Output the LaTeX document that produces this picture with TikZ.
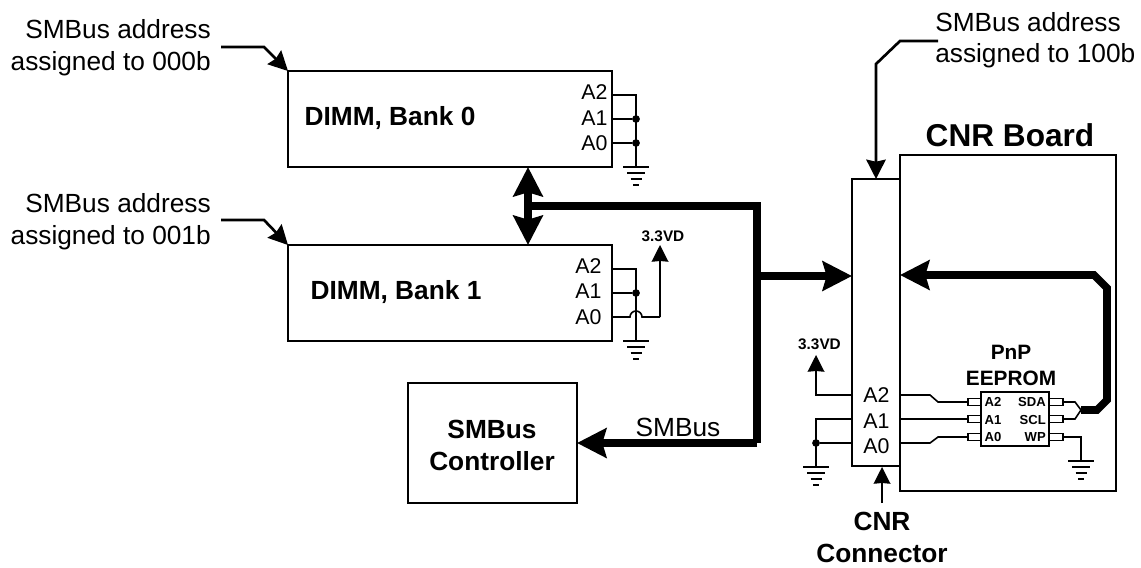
\documentclass[tikz,border=0pt]{standalone}
\usepackage{fontspec}
\setmainfont{Liberation Sans}
\usetikzlibrary{arrows.meta}
\tikzset{
  wire/.style={draw=black,line width=1.2pt},
  box/.style={draw=black,line width=1.3pt,fill=white,inner sep=0pt,outer sep=0pt},
  lblr/.style={inner sep=0pt,font=\fontsize{19.7}{23.8}\selectfont,align=right,text=black},
  lbll/.style={inner sep=0pt,font=\fontsize{19.7}{23.2}\selectfont,align=left,text=black},
  pinlabel/.style={inner sep=0pt,font=\fontsize{16}{18}\selectfont,text=black},
  boldlabel/.style={inner sep=0pt,font=\bfseries\fontsize{19.7}{24}\selectfont,align=center,text=black},
  chiplabel/.style={inner sep=0pt,font=\bfseries\fontsize{9.8}{11}\selectfont,text=black},
  railtext/.style={inner sep=0pt,font=\bfseries\fontsize{11.5}{14}\selectfont,text=black},
  eetext/.style={inner sep=0pt,font=\bfseries\fontsize{15.6}{19.5}\selectfont,align=center,text=black},
  bus/.style={draw=black,line width=5.8pt,line join=miter},
  bushead/.style={-{Triangle[length=22pt,width=22pt,inset=3pt]}},
  callout/.style={draw=black,line width=2pt,-{Triangle[length=14.5pt,width=14.5pt,inset=1.5pt]}},
  sig/.style={draw=black,line width=1.2pt,-{Triangle[length=12.5pt,width=12.5pt,inset=0.5pt]}},
  dotn/.style={circle,fill=black,inner sep=0pt,minimum size=5.8pt},
  pinbox/.style={draw=black,line width=1pt,fill=white,inner sep=0pt,outer sep=0pt,minimum height=5pt}
}
\newcommand{\gndsym}[2]{%
 \draw[wire] (#1-13,#2) -- (#1+13,#2);
 \draw[wire] (#1-9,#2+6) -- (#1+9,#2+6);
 \draw[wire] (#1-5.5,#2+12) -- (#1+5.5,#2+12);
 \draw[wire] (#1-3,#2+18) -- (#1+3,#2+18);}
\begin{document}
\begin{tikzpicture}[x=0.75pt,y=-0.75pt]
\useasboundingbox (0,0) rectangle (1141,567);
% boxes
\node[box,minimum width=216*0.75pt,minimum height=336*0.75pt] (board) at (1008,323) {};
\node[box,minimum width=48*0.75pt,minimum height=287*0.75pt] (conn) at (876,322.5) {};
\node[box,minimum width=324*0.75pt,minimum height=96*0.75pt] (dimm0) at (450,119) {};
\node[box,minimum width=324*0.75pt,minimum height=96*0.75pt] (dimm1) at (450,293) {};
\node[box,minimum width=169*0.75pt,minimum height=120*0.75pt] (ctrl) at (492.5,443) {};
\node[boldlabel] (d0t) at (390,118.5) {DIMM, Bank 0};
\node[boldlabel] (d1t) at (396,292.5) {DIMM, Bank 1};
\node[boldlabel] (ctrlt) at (492,445.5) {SMBus\\Controller};
\node[boldlabel,font=\bfseries\fontsize{23.7}{28}\selectfont] (cnrb) at (1010,135) {CNR Board};
\node[boldlabel,font=\bfseries\fontsize{19.7}{23.4}\selectfont] (cnrc) at (882,537.5) {CNR\\Connector};
% DIMM0 pins
\node[pinlabel,anchor=west] (a20) at (581,92.5) {A2};
\node[pinlabel,anchor=west] (a10) at (581,118.5) {A1};
\node[pinlabel,anchor=west] (a00) at (581,143.5) {A0};
\coordinate (d0a2) at (612,95); \coordinate (d0a1) at (612,119); \coordinate (d0a0) at (612,143);
\coordinate (d0top) at (636,95); \coordinate (d0g) at (636,167);
\node[dotn] (d0j1) at (636,119) {}; \node[dotn] (d0j0) at (636,143) {};
\draw[wire] (d0a2) -- (d0top) -- (d0g);
\draw[wire] (d0a1) -- (d0j1);
\draw[wire] (d0a0) -- (d0j0);
\gndsym{636}{167}
% DIMM1 pins
\node[pinlabel,anchor=west] (a21) at (575,266.5) {A2};
\node[pinlabel,anchor=west] (a11) at (575,291.5) {A1};
\node[pinlabel,anchor=west] (a01) at (575,317.5) {A0};
\coordinate (d1a2) at (612,269); \coordinate (d1a1) at (612,293); \coordinate (d1a0) at (612,317);
\coordinate (d1top) at (636,269); \coordinate (d1g) at (636,341);
\coordinate (d1hop) at (630,317); \coordinate (d1corner) at (660,317); \coordinate (d1v) at (660,245);
\node[dotn] (d1j1) at (636,293) {};
\draw[wire] (d1a2) -- (d1top) -- (d1g);
\draw[wire] (d1a1) -- (d1j1);
\draw[wire] (d1a0) -- (d1hop) arc[start angle=180,end angle=360,radius=6] -- (d1corner);
\draw[sig] (d1corner) -- (d1v);
\gndsym{636}{341}
\node[railtext] (v1) at (663,236) {3.3VD};
% buses
\coordinate (bstart) at (528,206); \coordinate (bcorner) at (757,206); \coordinate (bend) at (757,443);
\coordinate (btap) at (757,276); \coordinate (connin) at (852,276); \coordinate (ctrlin) at (577,443);
\coordinate (d0b) at (528,167); \coordinate (d1b) at (528,245);
\draw[bus] (bstart) -- (bcorner) -- (bend);
\draw[bus,bushead] (btap) -- (connin);
\draw[bus,bushead] (bend) -- (ctrlin);
\draw[bus,{Triangle[length=22pt,width=22pt,inset=3pt]}-{Triangle[length=22pt,width=22pt,inset=3pt]}] (d0b) -- (d1b);
% callouts
\node[lblr,anchor=east] (t0) at (211,48) {SMBus address\\assigned to 000b};
\node[lblr,anchor=east] (t1) at (211,222) {SMBus address\\assigned to 001b};
\node[lbll,anchor=west] (t2) at (935,40.5) {SMBus address\\assigned to 100b};
\coordinate (c0a) at (221,47); \coordinate (c0b) at (264,47); \coordinate (c0c) at (288,71);
\coordinate (c1a) at (221,220); \coordinate (c1b) at (264,220); \coordinate (c1c) at (288,245);
\coordinate (c2a) at (938,41); \coordinate (c2b) at (900,41); \coordinate (c2c) at (876,64); \coordinate (c2d) at (876,179);
\draw[callout] (c0a) -- (c0b) -- (c0c);
\draw[callout] (c1a) -- (c1b) -- (c1c);
\draw[callout] (c2a) -- (c2b) -- (c2c) -- (c2d);
% CNR connector lower
\node[pinlabel,anchor=west] (ca2) at (863,395.5) {A2};
\node[pinlabel,anchor=west] (ca1) at (863,421.5) {A1};
\node[pinlabel,anchor=west] (ca0) at (863,446.5) {A0};
\coordinate (la2) at (852,395); \coordinate (la1) at (852,419); \coordinate (la0) at (852,443);
\coordinate (lv2) at (816,395); \coordinate (lv1) at (816,419); \coordinate (lvg) at (816,467); \coordinate (lvt) at (816,355);
\node[dotn] (lj0) at (816,443) {};
\draw[sig] (la2) -- (lv2) -- (lvt);
\draw[wire] (la1) -- (lv1) -- (lvg);
\draw[wire] (la0) -- (lj0);
\gndsym{816}{467}
\node[railtext] (v2) at (819.5,344) {3.3VD};
\coordinate (cbot) at (882,503); \coordinate (ctip) at (882,467);
\draw[sig] (cbot) -- (ctip);
% EEPROM
\node[box,minimum width=68*0.75pt,minimum height=54*0.75pt] (chip) at (1015,419) {};
\node[eetext] (eep) at (1011,365) {PnP\\EEPROM};
\node[chiplabel] (ea2) at (993,402) {A2};
\node[chiplabel] (ea1) at (993,419.5) {A1};
\node[chiplabel] (ea0) at (993,437) {A0};
\node[chiplabel,anchor=east] (esda) at (1046,402) {SDA};
\node[chiplabel,anchor=east] (escl) at (1046,419.5) {SCL};
\node[chiplabel,anchor=east] (ewp) at (1046,437) {WP};
\node[pinbox,minimum width=13*0.75pt] (pl2) at (974.5,402) {};
\node[pinbox,minimum width=13*0.75pt] (pl1) at (974.5,419) {};
\node[pinbox,minimum width=13*0.75pt] (pl0) at (974.5,437) {};
\node[pinbox,minimum width=14*0.75pt] (pr2) at (1056,402) {};
\node[pinbox,minimum width=14*0.75pt] (pr1) at (1056,419) {};
\node[pinbox,minimum width=14*0.75pt] (pr0) at (1056,437) {};
\coordinate (r2) at (900,395); \coordinate (r1) at (900,419); \coordinate (r0) at (900,443);
\coordinate (k2a) at (930,395); \coordinate (k2b) at (938,402);
\coordinate (k0a) at (930,443); \coordinate (k0b) at (938,437);
\draw[wire] (r2) -- (k2a) -- (k2b) -- (pl2.west);
\draw[wire] (r1) -- (pl1.west);
\draw[wire] (r0) -- (k0a) -- (k0b) -- (pl0.west);
\coordinate (sda1) at (1075,402); \coordinate (busj) at (1081,410); \coordinate (scl1) at (1075,419);
\coordinate (wp1) at (1081,437); \coordinate (wpg) at (1081,461);
\draw[wire] (pr2.east) -- (sda1) -- (busj) -- (scl1) -- (pr1.east);
\draw[wire] (pr0.east) -- (wp1) -- (wpg);
\gndsym{1081}{461}
\coordinate (b1) at (1097,410); \coordinate (b2) at (1107,400); \coordinate (b3) at (1107,288); \coordinate (b4) at (1094,275); \coordinate (b5) at (900,275);
\draw[bus,bushead] (busj) -- (b1) -- (b2) -- (b3) -- (b4) -- (b5);
\node[inner sep=0pt,font=\fontsize{19.7}{23}\selectfont] (smb) at (678,427) {SMBus};
\end{tikzpicture}
\end{document}
